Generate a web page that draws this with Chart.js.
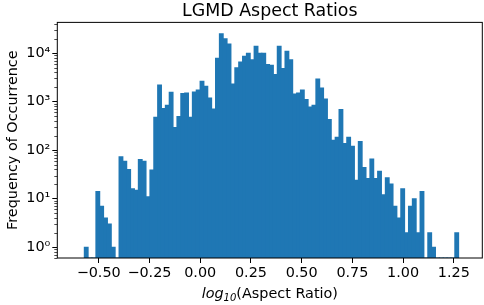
<!DOCTYPE html>
<html>
<head>
<meta charset="utf-8">
<script src="https://cdn.jsdelivr.net/npm/chart.js@4"></script>
<style>
    html, body { margin: 0; padding: 0; background: #fff; }
</style>
</head>
<body>
<canvas id="myChart" width="484" height="305"></canvas>
<script>
// log10 aspect ratio histogram, 97 equal bins
var binStart = -0.571,
    binWidth = 0.019015;

var counts = [
    1, 0, 0, 14, 7, 4, 3, 1, 0, 73,
    59, 40, 16, 15, 64, 59, 11, 39, 477, 2209,
    720, 838, 1562, 292, 493, 1480, 1513, 477, 1587, 1743,
    2628, 2074, 1194, 708, 7822, 25180, 19860, 15420, 2316, 5024,
    6576, 8600, 9910, 7343, 13800, 9910, 9910, 5796, 5612, 3607,
    13800, 4795, 10900, 7343, 1443, 1513, 1743, 1103, 779, 838,
    2937, 1918, 1138, 427, 160, 185, 687, 137, 185, 121,
    24, 151, 44, 26, 66, 26, 37, 12, 27, 20,
    7, 4, 16, 2, 7, 10, 2, 14, 0, 2,
    1, 0, 0, 0, 0, 0, 2
];

var xTicks = [-0.5, -0.25, 0, 0.25, 0.5, 0.75, 1.0, 1.25],
    yTicks = [1, 10, 100, 1000, 10000],
    yTickLabels = ['10⁰', '10¹', '10²', '10³', '10⁴'];

var binCenters = counts.map((c, i) => binStart + (i + 0.5) * binWidth);

const FONT = '"DejaVu Sans", sans-serif';

// spines on all four sides, minor log ticks and the mixed-style x label
const frame = {
    id: 'frame',
    afterDraw(chart) {
        const {ctx, chartArea: a, scales} = chart;
        ctx.save();
        ctx.strokeStyle = '#000';
        ctx.lineWidth = 1;
        ctx.strokeRect(a.left, a.top, a.right - a.left, a.bottom - a.top);

        // minor ticks on the y axis
        const ys = scales.y;
        ctx.lineWidth = 0.7;
        for (let d = -1; d <= 4; d++) {
            for (let m = 2; m <= 9; m++) {
                const v = m * Math.pow(10, d);
                if (v < ys.min || v > ys.max) continue;
                const py = Math.round(ys.getPixelForValue(v)) + 0.5;
                ctx.beginPath();
                ctx.moveTo(a.left - 3, py);
                ctx.lineTo(a.left, py);
                ctx.stroke();
            }
        }

        // x axis label: italic log with subscript 10
        const base = a.bottom + 39.5,
            cx = (a.left + a.right) / 2;
        ctx.fillStyle = '#000';
        ctx.textBaseline = 'alphabetic';
        ctx.textAlign = 'left';
        ctx.font = 'italic 14.4px ' + FONT;
        const w1 = ctx.measureText('log').width;
        ctx.font = 'italic 10px ' + FONT;
        const w2 = ctx.measureText('10').width;
        ctx.font = '14.4px ' + FONT;
        const w3 = ctx.measureText('(Aspect Ratio)').width;
        let x = cx - (w1 + w2 + w3) / 2;
        ctx.font = 'italic 14.4px ' + FONT;
        ctx.fillText('log', x, base);
        x += w1;
        ctx.font = 'italic 10px ' + FONT;
        ctx.fillText('10', x, base + 3);
        x += w2;
        ctx.font = '14.4px ' + FONT;
        ctx.fillText('(Aspect Ratio)', x, base);
        ctx.restore();
    }
};

var ctx = document.getElementById('myChart').getContext('2d');
var myChart = new Chart(ctx, {
    type: 'bar',
    data: {
        labels: binCenters,
        datasets: [{
            label: 'count',
            data: counts,
            backgroundColor: '#1f77b4',
            borderWidth: 0,
            barPercentage: 1,
            categoryPercentage: 1,
            // grow each bar half a pixel so neighbouring bins show no seams
            inflateAmount: 0.5
        }]
    },
    options: {
        responsive: false,
        animation: false,
        devicePixelRatio: 1,
        layout: { padding: { left: 0, right: 1.7, top: 0, bottom: 0 } },
        plugins: {
            legend: { display: false },
            tooltip: { enabled: false },
            title: {
                display: true,
                text: 'LGMD Aspect Ratios',
                fullSize: false,
                color: '#000',
                font: { family: FONT, size: 17.4, weight: 'normal' },
                padding: { top: 1.5, bottom: 0 }
            }
        },
        scales: {
            x: {
                type: 'linear',
                offset: false,
                min: -0.704,
                max: 1.39,
                afterBuildTicks: s => { s.ticks = xTicks.map(v => ({ value: v })); },
                afterFit: s => { s.height = 47; },
                ticks: {
                    autoSkip: false,
                    maxRotation: 0,
                    padding: 2,
                    color: '#000',
                    font: { family: FONT, size: 14.4 },
                    callback: v => v.toFixed(2).replace('-', '\u2212')
                },
                grid: { drawOnChartArea: false, offset: false, tickLength: 5, color: '#000' },
                border: { display: false }
            },
            y: {
                type: 'logarithmic',
                min: 0.617,
                max: 43000,
                afterBuildTicks: s => { s.ticks = yTicks.map(v => ({ value: v })); },
                afterFit: s => { s.width = 57.3; },
                ticks: {
                    autoSkip: false,
                    padding: 2,
                    color: '#000',
                    font: { family: FONT, size: 14.4 },
                    callback: (v, i) => yTickLabels[i]
                },
                grid: { drawOnChartArea: false, tickLength: 5, color: '#000' },
                border: { display: false },
                title: {
                    display: true,
                    text: 'Frequency of Occurrence',
                    color: '#000',
                    font: { family: FONT, size: 14.4 },
                    padding: { top: 5, bottom: 0 }
                }
            }
        }
    },
    plugins: [frame]
});
</script>
</body>
</html>
